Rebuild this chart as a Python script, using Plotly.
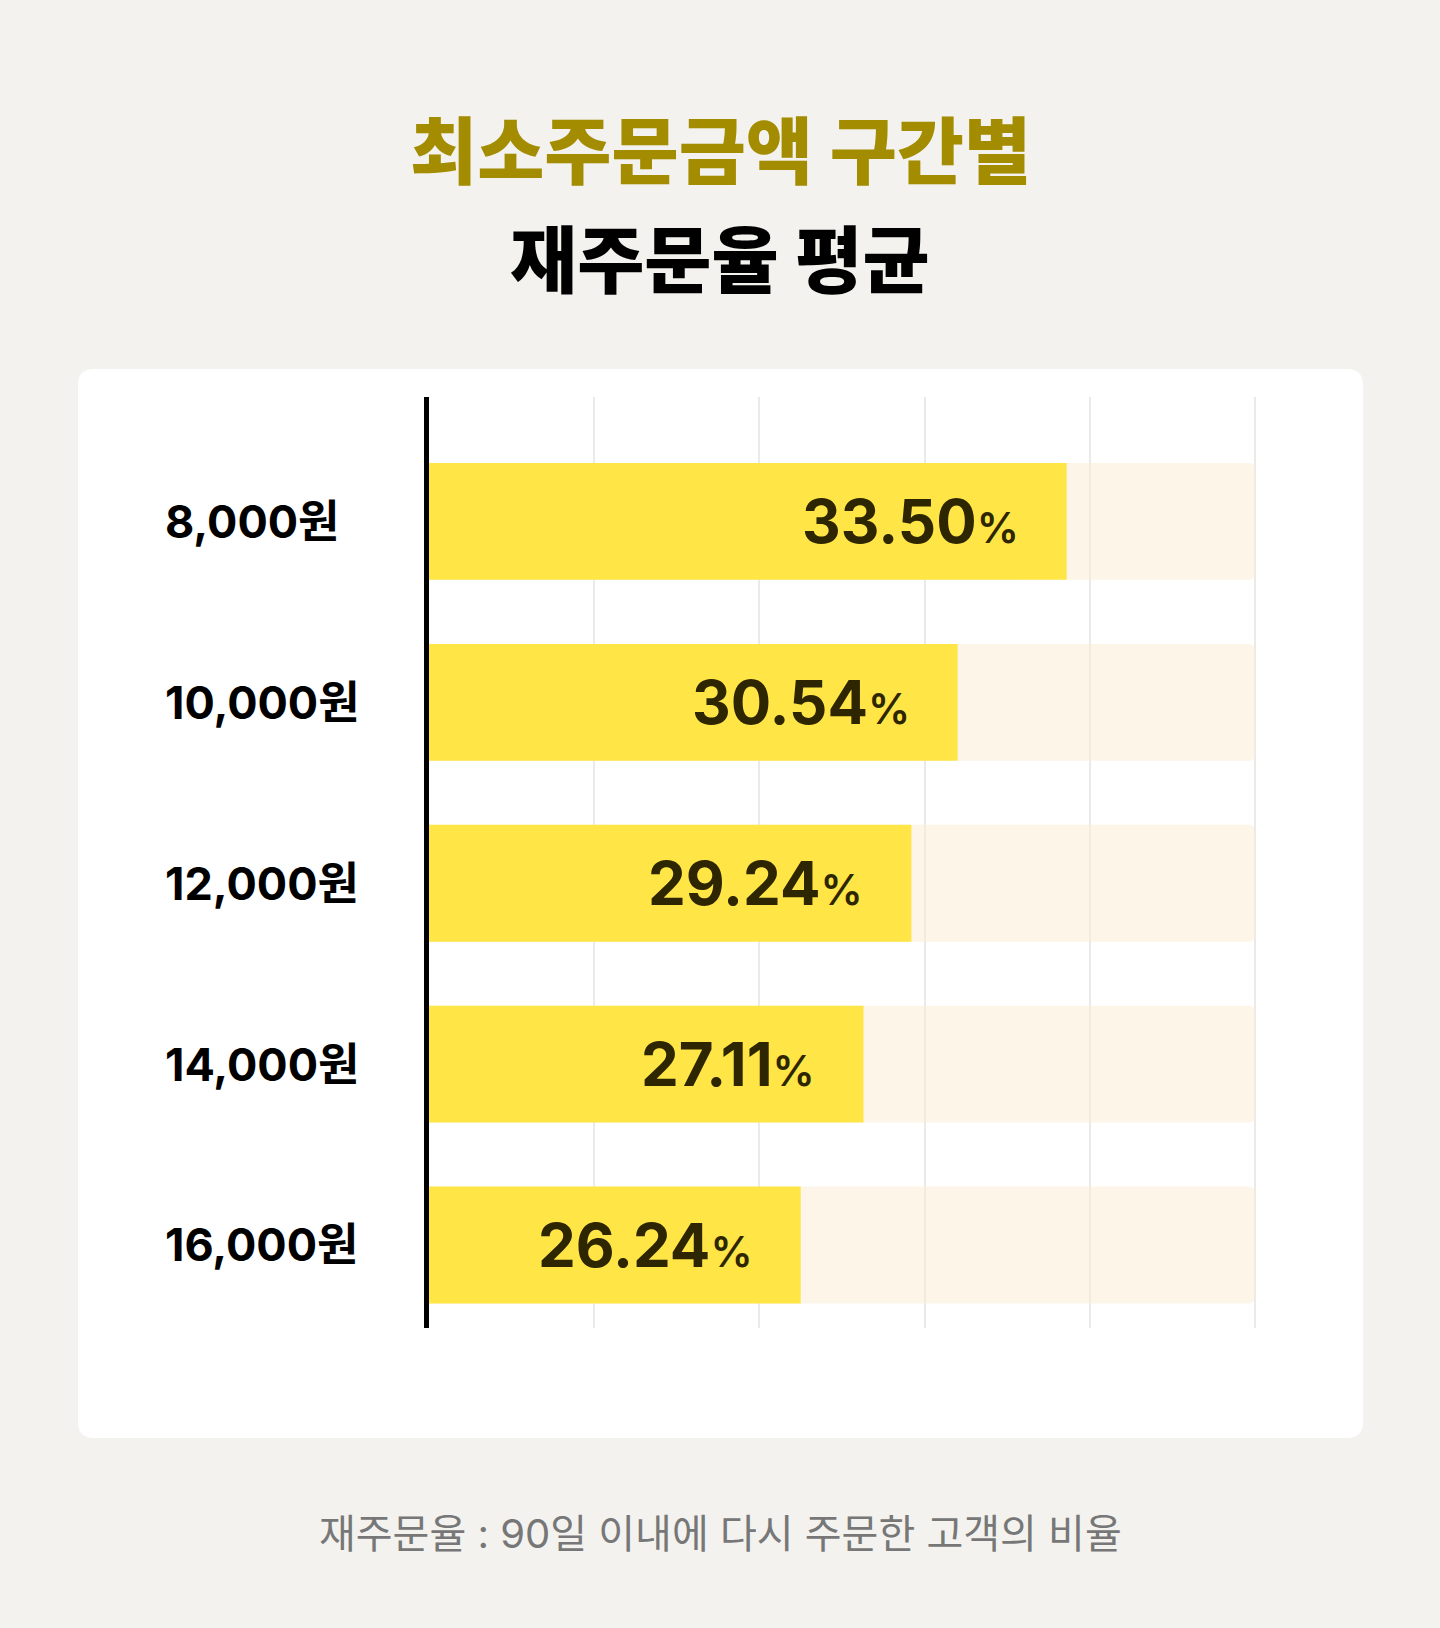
import plotly.graph_objects as go

W, H = 1440, 1628

# 데이터
categories = ["8,000원", "10,000원", "12,000원", "14,000원", "16,000원"]
rates = [33.50, 30.54, 29.24, 27.11, 26.24]          # 라벨 값 (%)
bar_lengths = [38.6, 32.0, 29.2, 26.3, 22.5]          # 그림에서 읽은 막대 길이 (0~50 눈금 기준)
track_max = [50, 50, 50, 50, 50]                       # 배경 트랙

title_top = "최소주문금액 구간별"
title_bottom = "재주문율 평균"
footnote = "재주문율 : 90일 이내에 다시 주문한 고객의 비율"

KR = "Noto Sans CJK KR"
NUM = "Inter, Noto Sans CJK KR"


def px(x):
    return x / W


def py(y):
    return 1 - y / H


def rounded_rect(x0, y0, x1, y1, r):
    # 픽셀 좌표 -> paper 좌표 둥근 사각형
    a, b, c, d = px(x0), py(y1), px(x1), py(y0)
    rx, ry = r / W, r / H
    return (f"M {a+rx},{d} L {c-rx},{d} Q {c},{d} {c},{d-ry} "
            f"L {c},{b+ry} Q {c},{b} {c-rx},{b} L {a+rx},{b} "
            f"Q {a},{b} {a},{b+ry} L {a},{d-ry} Q {a},{d} {a+rx},{d} Z")


fig = go.Figure()

fig.add_trace(go.Bar(
    y=categories, x=track_max, orientation="h",
    width=0.646, marker=dict(color="rgba(249,235,209,0.5)", line=dict(width=0)),
    hoverinfo="skip",
))
fig.add_trace(go.Bar(
    y=categories, x=bar_lengths, orientation="h",
    width=0.646, marker=dict(color="#FFE545", line=dict(width=0)),
    hoverinfo="skip",
))

annotations = [
    dict(text=title_top, x=0.5, y=py(146), xref="paper", yref="paper", yanchor="middle",
         showarrow=False, font=dict(family=KR, size=73, color="#A38C00", weight=800)),
    dict(text=title_bottom, x=0.5, y=py(255), xref="paper", yref="paper", yanchor="middle",
         showarrow=False, font=dict(family=KR, size=73, color="#000000", weight=800)),
    dict(text=footnote, x=0.5, y=py(1533), xref="paper", yref="paper", yanchor="middle",
         showarrow=False, font=dict(family=NUM, size=40, color="#777777")),
]

for cat, length, rate in zip(categories, bar_lengths, rates):
    annotations.append(dict(
        text=cat, x=px(163), y=cat, xref="paper", yref="y", xanchor="left", yanchor="middle",
        showarrow=False, font=dict(family=NUM, size=45, color="#000000", weight=700),
    ))
    annotations.append(dict(
        text=f"<b>{rate:.2f}</b><span style='font-size:42px'>%</span>",
        x=length, y=cat, xref="x", yref="y", xanchor="right", yanchor="middle", xshift=-46,
        showarrow=False, font=dict(family=NUM, size=60, color="#2D2600", weight=600),
    ))

fig.update_layout(
    width=W, height=H,
    margin=dict(l=0, r=0, t=0, b=0),
    paper_bgcolor="#F3F2EE",
    plot_bgcolor="#FFFFFF",
    barmode="overlay",
    barcornerradius=6,
    showlegend=False,
    shapes=[dict(type="path", path=rounded_rect(78, 369, 1363, 1438, 16),
                 xref="paper", yref="paper", fillcolor="#FFFFFF",
                 line=dict(width=0), layer="below")],
    annotations=annotations,
    xaxis=dict(domain=[px(429), px(429 + 50.1 * 16.52)], range=[0, 50.1],
               dtick=10, showgrid=True, gridcolor="#ECEAE6", gridwidth=2,
               zeroline=False, showticklabels=False, showline=False, fixedrange=True),
    yaxis=dict(domain=[py(1328), py(397)], range=[4.459, -0.688],
               showgrid=False, zeroline=False, showticklabels=False,
               showline=True, linecolor="#000000", linewidth=5, fixedrange=True),
)

fig.write_html("out.html", config={"displayModeBar": False},
               post_script="document.body.style.margin='0';document.body.style.background='#F3F2EE';")
